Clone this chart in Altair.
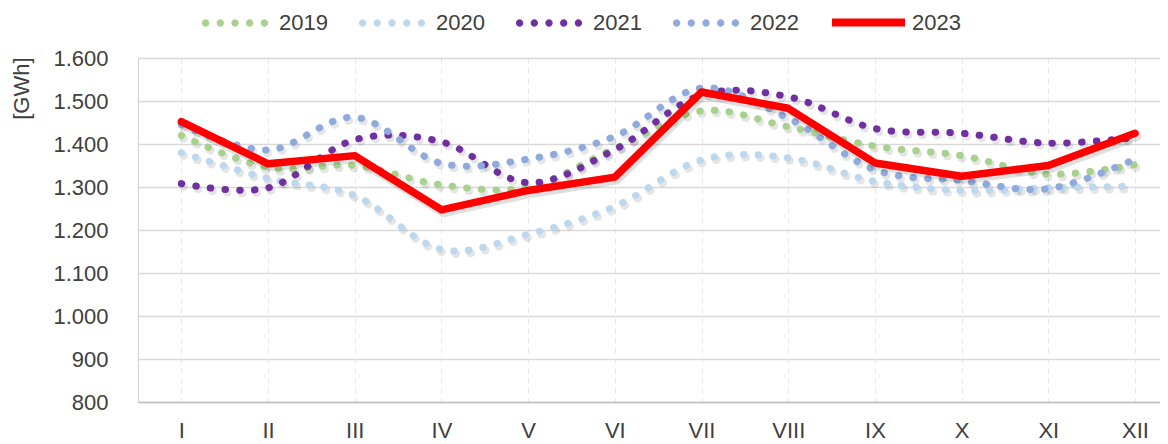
import math
import altair as alt
import pandas as pd

months = ["I", "II", "III", "IV", "V", "VI", "VII", "VIII", "IX", "X", "XI", "XII"]
dotted_years = ["2019", "2020", "2021", "2022"]
v2019 = [1420, 1345, 1350, 1305, 1300, 1390, 1477, 1440, 1395, 1373, 1330, 1352]
v2020 = [1380, 1320, 1280, 1155, 1190, 1255, 1363, 1368, 1313, 1292, 1298, 1302]
v2021 = [1308, 1298, 1410, 1405, 1310, 1387, 1514, 1510, 1436, 1425, 1402, 1415]
v2022 = [1445, 1386, 1462, 1355, 1365, 1418, 1530, 1460, 1340, 1315, 1296, 1365]
v2023 = [1452, 1354, 1373, 1247, 1292, 1323, 1521, 1483, 1356, 1325, 1350, 1425]
dotted_colors = ["#a9d18e", "#bdd7ee", "#7030a0", "#8faadc"]
red_year = "2023"
red_color = "#ff0000"
y_ticks = [800, 900, 1000, 1100, 1200, 1300, 1400, 1500, 1600]

rows = []
for yr, vals in zip(dotted_years, [v2019, v2020, v2021, v2022]):
    for i, v in enumerate(vals):
        rows.append({"year": yr, "idx": i + 1, "value": v})
dotted_df = pd.DataFrame(rows)
red_df = pd.DataFrame({"year": red_year, "idx": list(range(1, 13)), "value": v2023})

FONT = "Liberation Sans"
TXT = "#404040"

label_expr = "[" + ",".join("'%s'" % m for m in months) + "][datum.value - 1]"

x_enc = alt.X(
    "idx:Q",
    scale=alt.Scale(domain=[0.5, 12.288], nice=False, zero=False),
    axis=alt.Axis(
        values=list(range(1, 13)), labelExpr=label_expr, title=None,
        ticks=False, labelPadding=18, labelFontSize=22, labelFont=FONT, labelColor=TXT,
        domainColor="#bfbfbf", domainWidth=1.5,
        grid=True, gridColor="#e6e6e6", gridDash=[5, 5], gridWidth=1,
    ),
)
y_enc = alt.Y(
    "value:Q",
    scale=alt.Scale(domain=[800, 1600], nice=False, zero=False),
    axis=alt.Axis(
        values=y_ticks, labelExpr="replace(format(datum.value, ','), ',', '.')",
        title="[GWh]", titleFont=FONT, titleFontSize=22, titleFontWeight="normal",
        titleColor=TXT, titleX=-117, titleY=-1, titleAlign="right", titleAngle=270,
        titleBaseline="middle",
        ticks=False, labelPadding=30, labelFontSize=22, labelFont=FONT, labelColor=TXT,
        domainColor="#d0d0d0", domainWidth=1,
        grid=True, gridColor="#d9d9d9", gridWidth=1.5,
    ),
)

# legend symbol: five filled round dots across the symbol box
rad = 0.105
centers = [-0.84, -0.42, 0.0, 0.42, 0.84]
parts = []
for c in centers:
    pts = [(c + rad * math.cos(2 * math.pi * k / 16), rad * math.sin(2 * math.pi * k / 16)) for k in range(16)]
    parts.append("M" + "L".join("%.4f,%.4f" % p for p in pts) + "Z")
dots_path = "".join(parts)

DASH = [0.5, 14.2]

shadow_dotted = alt.Chart(dotted_df).mark_line(
    interpolate="cardinal", strokeDash=DASH, strokeCap="round", strokeWidth=8,
    color="#000000", opacity=0.10, xOffset=2, yOffset=3,
).encode(x=x_enc, y=y_enc, detail="year:N")

dotted = alt.Chart(dotted_df).mark_line(
    interpolate="cardinal", strokeDash=DASH, strokeCap="round", strokeWidth=7,
).encode(
    x=x_enc, y=y_enc,
    color=alt.Color(
        "year:N",
        scale=alt.Scale(domain=dotted_years, range=dotted_colors),
        legend=None,
    ),
)

# legend carrier: same colour scale, draws nothing (filtered to no rows)
dotted_legend = alt.Chart(dotted_df).transform_filter("datum.idx < 0").mark_point(
    filled=True, opacity=1,
).encode(
    x=x_enc, y=y_enc,
    color=alt.Color(
        "year:N",
        scale=alt.Scale(domain=dotted_years, range=dotted_colors),
        legend=alt.Legend(
            title=None, orient="none", direction="horizontal", legendX=62, legendY=-70,
            symbolType=dots_path, symbolSize=4900, symbolStrokeWidth=0, symbolOpacity=1,
            labelFont=FONT, labelFontSize=22, labelColor=TXT, labelOffset=9,
            columnPadding=29,
        ),
    ),
)

shadow_red = alt.Chart(red_df).mark_line(
    strokeWidth=9, color="#000000", opacity=0.12, xOffset=2, yOffset=3,
    strokeCap="round", strokeJoin="round",
).encode(x=x_enc, y=y_enc)

red = alt.Chart(red_df).mark_line(
    strokeWidth=7.5, strokeCap="round", strokeJoin="round",
).encode(
    x=x_enc, y=y_enc,
    color=alt.Color(
        "year:N",
        scale=alt.Scale(domain=[red_year], range=[red_color]),
        legend=alt.Legend(
            title=None, orient="none", direction="horizontal", legendX=690, legendY=-76,
            symbolType="stroke", symbolSize=5329, symbolStrokeWidth=8,
            labelFont=FONT, labelFontSize=22, labelColor=TXT, labelOffset=3,
        ),
    ),
)

chart = (
    alt.layer(shadow_dotted, dotted, dotted_legend, shadow_red, red)
    .resolve_scale(color="independent")
    .properties(
        width=1022, height=344,
        autosize=alt.AutoSizeParams(type="none"),
        padding={"left": 130, "top": 50, "right": 0, "bottom": 46},
        background="white",
    )
    .configure_view(stroke=None)
)

chart.save("out.html", embed_options={"renderer": "svg", "actions": False})
